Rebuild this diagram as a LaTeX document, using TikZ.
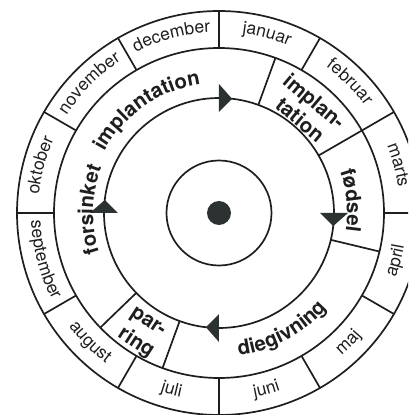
\documentclass[tikz,border=0pt]{standalone}
\usepackage{fontspec}
\setmainfont{TeX Gyre Heros}
\usetikzlibrary{decorations.text}
\definecolor{ink}{HTML}{1E1E1E}
\definecolor{fillc}{HTML}{2C3131}
\newcommand\monthfont{\fontsize{17.5}{17.5}\selectfont}
\newcommand\stagefont{\bfseries\fontsize{20.5}{21}\selectfont}
\tikzset{
  ringline/.style={draw=ink, line width=1.7pt},
  monthtext/.style={decorate, decoration={text along path, text align=center, text={|\color{ink}\monthfont|#1}}},
  stagetext/.style={decorate, decoration={text along path, text align=center, text={|\color{ink}\stagefont|#1}}},
  stagenode/.style={text=ink, font=\stagefont, inner sep=0pt},
  arrowhd/.style={fill=fillc},
}
\newcommand\upmonth[2]{\path[monthtext={#2}] ({#1+25}:181pt) arc[start angle={#1+25}, end angle={#1-25}, radius=181pt];}
\newcommand\lowmonth[2]{\path[monthtext={#2}] ({#1-25}:188pt) arc[start angle={#1-25}, end angle={#1+25}, radius=188pt];}
\begin{document}
\begin{tikzpicture}
\useasboundingbox (-219pt,-202pt) rectangle (189pt,213pt);
\clip (-219pt,-202pt) rectangle (189pt,213pt);
% rings
\draw[ringline] (0,0) circle[radius=202pt];
\draw[ringline] (0,0) circle[radius=165pt];
\draw[ringline] (0,0) circle[radius=115pt];
\draw[ringline] (0,0) circle[radius=52.5pt];
\fill[fillc] (0,0) circle[radius=12pt];
% month dividers
\foreach \a in {0,30,...,330} {\draw[ringline] (\a:165pt) -- (\a:202pt);}
% stage dividers
\foreach \a in {70,30,-13.5,-110,-136} {\draw[ringline] (\a:115pt) -- (\a:165pt);}
% arrows
\foreach \a in {90,0,-90,180} {\fill[arrowhd] (\a:101pt) -- (\a:129pt) -- ({\a-6.5}:115pt) -- cycle;}
% months
\upmonth{75}{januar}
\upmonth{45}{februar}
\upmonth{15}{marts}
\lowmonth{-15}{april}
\lowmonth{-45}{maj}
\lowmonth{-75}{juni}
\lowmonth{-105}{juli}
\lowmonth{-135}{august}
\lowmonth{-165}{september}
\upmonth{165}{oktober}
\upmonth{135}{november}
\upmonth{105}{december}
% stages
\path[stagetext={implantation}] (165:130pt) arc[start angle=165, end angle=85, radius=130pt];
\path[stagetext={forsinket}] (218:126pt) arc[start angle=218, end angle=139, radius=126pt];
\path[stagetext={fødsel}] (35.4:128pt) arc[start angle=35.4, end angle=-24.6, radius=128pt];
\path[stagetext={diegivning}] (-101.7:144pt) arc[start angle=-101.7, end angle=-21.7, radius=144pt];
\node[stagenode, rotate=-40] (imp1) at (49.5:145pt) {implan-};
\node[stagenode, rotate=-40] (imp2) at (49:124pt) {tation};
\node[stagenode, rotate=-33] (par1) at (-123:131.5pt) {par-};
\node[stagenode, rotate=-33] (par2) at (-122.6:154pt) {ring};
\end{tikzpicture}
\end{document}
